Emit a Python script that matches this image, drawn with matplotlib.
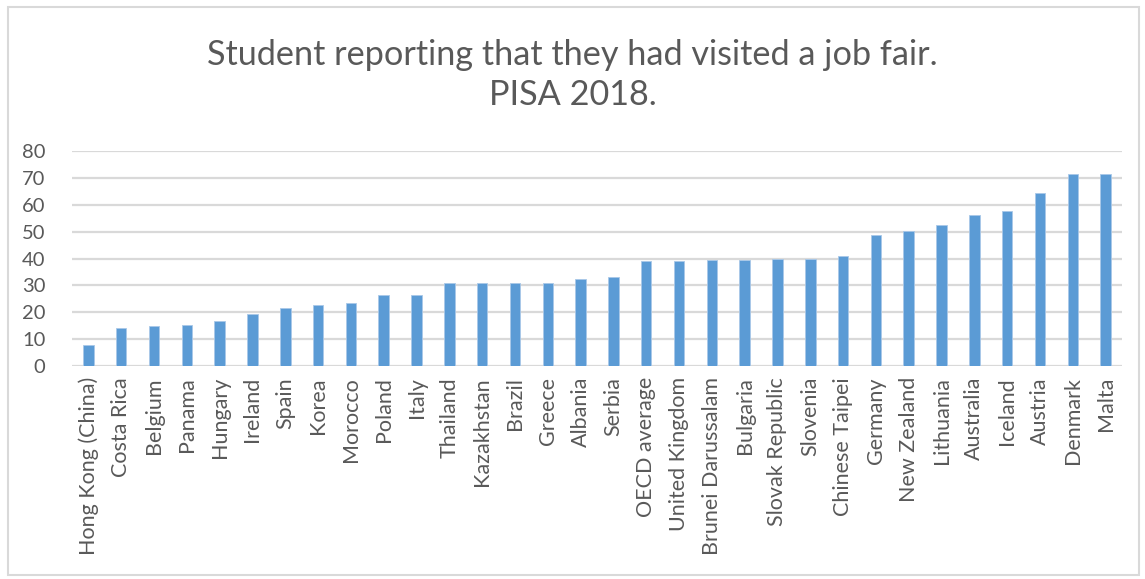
import numpy as np
import matplotlib
matplotlib.use("Agg")
import matplotlib.pyplot as plt
from matplotlib.patches import Rectangle

countries = ["Hong Kong (China)", "Costa Rica", "Belgium", "Panama", "Hungary",
             "Ireland", "Spain", "Korea", "Morocco", "Poland", "Italy", "Thailand",
             "Kazakhstan", "Brazil", "Greece", "Albania", "Serbia", "OECD average",
             "United Kingdom", "Brunei Darussalam", "Bulgaria", "Slovak Republic",
             "Slovenia", "Chinese Taipei", "Germany", "New Zealand", "Lithuania",
             "Australia", "Iceland", "Austria", "Denmark", "Malta"]
visited = [7.8, 14.2, 14.7, 15.3, 16.8, 19.3, 21.6, 22.7, 23.6, 26.6, 26.6, 30.7,
           30.7, 30.7, 31.0, 32.5, 33.1, 38.9, 38.9, 39.6, 39.6, 40.0,
           40.0, 40.9, 48.8, 50.3, 52.3, 56.2, 57.7, 64.3, 71.6, 71.6]
yticks = [0, 10, 20, 30, 40, 50, 60, 70, 80]

plt.rcParams['font.family'] = ['Lato', 'DejaVu Sans']
grey = '#595959'

fig = plt.figure(figsize=(11.45, 5.79), dpi=100)
# chart frame
fig.patches.append(Rectangle((8 / 1145, 4 / 579), 1131 / 1145, 568 / 579,
                             transform=fig.transFigure, fill=False,
                             edgecolor='#d9d9d9', linewidth=1.5))

ax = fig.add_axes([72 / 1145, 1 - 366 / 579, 1050 / 1145, 215 / 579])
x = np.arange(len(countries))
ax.bar(x, visited, width=0.32, color='#5b9bd5', edgecolor='#a9c8e8',
       linewidth=0.6, zorder=3)

ax.set_xlim(-0.5, len(countries) - 0.5)
ax.set_ylim(0, 80)
ax.set_yticks(yticks)
ax.set_yticklabels([str(v) for v in yticks])
ax.set_xticks(x)
ax.set_xticklabels(countries, rotation=90)
ax.grid(axis='y', color='#d9d9d9', linewidth=1.6, zorder=0)
for s in ax.spines.values():
    s.set_visible(False)
ax.tick_params(length=0, colors=grey)
ax.tick_params(axis='x', pad=8, labelsize=15.5)
ax.tick_params(axis='y', pad=19, labelsize=14.5)

fig.text(0.5, 1 - 55 / 579, "Student reporting that they had visited a job fair.",
         ha='center', va='center', fontsize=24.7, color=grey)
fig.text(0.5, 1 - 95 / 579, "PISA 2018.",
         ha='center', va='center', fontsize=24.7, color=grey)

fig.savefig("out.png", dpi=100)
